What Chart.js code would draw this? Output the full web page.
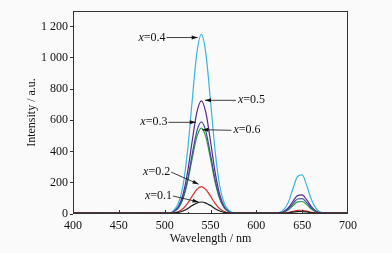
<!DOCTYPE html>
<html>
<head>
<meta charset="utf-8">
<script src="https://cdn.jsdelivr.net/npm/chart.js@4/dist/chart.umd.min.js"></script>
<style>
  html, body { margin: 0; padding: 0; background: #fafafa; }
  #wrap { width: 392px; height: 253px; }
</style>
</head>
<body>
<div id="wrap"><canvas id="chart" width="392" height="253"></canvas></div>
<script>
// wavelength (nm), every 5 nm
var wavelengths = [400,405,410,415,420,425,430,435,440,445,450,455,460,465,470,475,480,485,490,495,500,505,
  510,515,520,525,530,535,540,545,550,555,560,565,570,575,
  580,585,590,595,600,605,610,615,
  620,625,630,635,640,645,650,655,660,665,670,675,
  680,685,690,695,700];

// intensity (a.u.)
var x01 = [5,5,5,5,5,5,5,5,5,5,5,5,5,5,5,5,5,5,5,5,5,5,
  6,10,19,34,54,70,77,70,54,34,19,10,6,5,
  5,5,5,5,5,5,5,5,
  5,5,6,8,12,15,16,13,9,6,5,5,
  5,5,5,5,5];
var x02 = [5,5,5,5,5,5,5,5,5,5,5,5,5,5,5,5,5,5,5,5,5,5,
  8,16,34,68,114,156,175,156,114,68,34,16,8,5,
  5,5,5,5,5,5,5,5,
  5,5,7,10,17,23,24,18,11,7,5,5,
  5,5,5,5,5];
var x03 = [5,5,5,5,5,5,5,5,5,5,5,5,5,5,5,5,5,5,5,5,5,5,
  15,42,104,220,380,528,590,528,380,220,104,42,15,5,
  5,5,5,5,5,5,5,5,
  5,7,14,34,66,96,98,73,39,16,7,5,
  5,5,5,5,5];
var x04 = [5,5,5,5,5,5,5,5,5,5,5,5,5,5,5,5,5,5,5,5,5,5,
  23,69,181,406,724,1025,1150,1025,724,406,181,69,23,8,
  5,5,5,5,5,5,5,5,
  6,10,28,76,163,240,250,182,94,36,12,6,
  5,5,5,5,5];
var x05 = [5,5,5,5,5,5,5,5,5,5,5,5,5,5,5,5,5,5,5,5,5,5,
  17,48,125,268,466,648,725,648,466,268,125,48,17,5,
  5,5,5,5,5,5,5,5,
  5,7,16,40,82,118,122,90,47,19,8,5,
  5,5,5,5,5];
var x06 = [5,5,5,5,5,5,5,5,5,5,5,5,5,5,5,5,5,5,5,5,5,5,
  14,39,97,205,355,492,550,492,355,205,97,39,14,5,
  5,5,5,5,5,5,5,5,
  5,6,12,27,54,78,80,60,32,14,7,5,
  5,5,5,5,5];

var seriesNames = ['0.1', '0.2', '0.3', '0.4', '0.5', '0.6'];
var seriesValues = [x01, x02, x03, x04, x05, x06];
var seriesColors = ['#1a1a1a', '#d9302c', '#3d4f95', '#38b6dc', '#5b2a8c', '#2e9a4a'];

var xTicks = [400, 450, 500, 550, 600, 650, 700];

// callouts: text end/start point and arrow tip, in data units
var callouts = [
  { name: '0.4', side: 'left',  tx: 501, ty: 1130, px: 536, py: 1130 },
  { name: '0.5', side: 'right', tx: 580, ty: 728,  px: 544, py: 728 },
  { name: '0.3', side: 'left',  tx: 503, ty: 587,  px: 534, py: 587 },
  { name: '0.6', side: 'right', tx: 575, ty: 536,  px: 541, py: 540 },
  { name: '0.2', side: 'left',  tx: 506, ty: 268,  px: 537, py: 191 },
  { name: '0.1', side: 'left',  tx: 508, ty: 115,  px: 537, py: 77 }
];

var serif = 'Liberation Serif, Times New Roman, serif';

function fmt(v) {
  if (v >= 1000) {
    var r = String(v % 1000);
    while (r.length < 3) r = '0' + r;
    return Math.floor(v / 1000) + ' ' + r;
  }
  return String(v);
}

var calloutPlugin = {
  id: 'callouts',
  afterDatasetsDraw: function (chart) {
    var c = chart.ctx, xs = chart.scales.x, ys = chart.scales.y;
    c.save();
    c.fillStyle = '#111';
    c.strokeStyle = '#111';
    c.lineWidth = 0.8;
    c.textBaseline = 'middle';
    callouts.forEach(function (a) {
      var tx = xs.getPixelForValue(a.tx), ty = ys.getPixelForValue(a.ty);
      var px = xs.getPixelForValue(a.px), py = ys.getPixelForValue(a.py);
      c.font = 'italic 12px ' + serif;
      var w1 = c.measureText('x').width;
      c.font = '12px ' + serif;
      var w2 = c.measureText('=' + a.name).width;
      var x0 = a.side === 'left' ? tx - w1 - w2 : tx;
      c.font = 'italic 12px ' + serif;
      c.textAlign = 'left';
      c.fillText('x', x0, ty);
      c.font = '12px ' + serif;
      c.fillText('=' + a.name, x0 + w1, ty);
      var sx = a.side === 'left' ? tx + 1 : tx - 2;
      c.beginPath();
      c.moveTo(sx, ty);
      c.lineTo(px, py);
      c.stroke();
      var ang = Math.atan2(py - ty, px - sx);
      c.beginPath();
      c.moveTo(px, py);
      c.lineTo(px - 6 * Math.cos(ang) + 2 * Math.sin(ang), py - 6 * Math.sin(ang) - 2 * Math.cos(ang));
      c.lineTo(px - 6 * Math.cos(ang) - 2 * Math.sin(ang), py - 6 * Math.sin(ang) + 2 * Math.cos(ang));
      c.closePath();
      c.fill();
    });
    c.restore();
  }
};

var framePlugin = {
  id: 'frame',
  afterDraw: function (chart) {
    var c = chart.ctx, a = chart.chartArea, xs = chart.scales.x;
    c.save();
    c.strokeStyle = '#333';
    c.lineWidth = 1;
    c.strokeRect(a.left + 0.5, a.top + 0.5, a.right - a.left - 1, a.bottom - a.top - 1);
    // inward ticks on the bottom axis
    c.beginPath();
    for (var v = 425; v < 700; v += 25) {
      var x = Math.round(xs.getPixelForValue(v)) + 0.5;
      var len = (v % 50 === 0) ? 4 : 2;
      c.moveTo(x, a.bottom);
      c.lineTo(x, a.bottom - len);
    }
    c.stroke();
    c.restore();
  }
};

var ctx = document.getElementById('chart').getContext('2d');
var chart = new Chart(ctx, {
  type: 'line',
  data: {
    datasets: seriesValues.map(function (vals, i) {
      return {
        label: 'x=' + seriesNames[i],
        data: vals.map(function (v, j) { return { x: wavelengths[j], y: v }; }),
        borderColor: seriesColors[i],
        borderWidth: 1.2,
        pointRadius: 0,
        fill: false,
        cubicInterpolationMode: 'monotone'
      };
    })
  },
  options: {
    responsive: false,
    animation: false,
    layout: { padding: { left: 25, top: 11, right: 44, bottom: 7 } },
    plugins: { legend: { display: false }, tooltip: { enabled: false } },
    scales: {
      x: {
        type: 'linear',
        min: 400, max: 700,
        afterBuildTicks: function (s) { s.ticks = xTicks.map(function (v) { return { value: v }; }); },
        afterFit: function (s) { s.height = 32; },
        grid: { drawOnChartArea: false, drawTicks: false },
        border: { display: false },
        ticks: { color: '#111', font: { family: serif, size: 12 }, padding: 5, maxRotation: 0 },
        title: { display: true, text: 'Wavelength / nm', color: '#111', font: { family: serif, size: 12 }, padding: { top: 0, bottom: 0 } }
      },
      y: {
        min: 0, max: 1300,
        afterFit: function (s) { s.width = 48; },
        grid: { drawOnChartArea: false, drawTicks: true, tickLength: 3, color: '#333' },
        border: { display: false },
        ticks: {
          stepSize: 100,
          color: '#111',
          font: { family: serif, size: 12 },
          padding: 2,
          callback: function (v) { return (v % 200 === 0 && v <= 1200) ? fmt(v) : ''; }
        },
        title: { display: true, text: 'Intensity / a.u.', color: '#111', font: { family: serif, size: 12 }, padding: { top: 0, bottom: 0 } }
      }
    }
  },
  plugins: [calloutPlugin, framePlugin]
});
</script>
</body>
</html>
